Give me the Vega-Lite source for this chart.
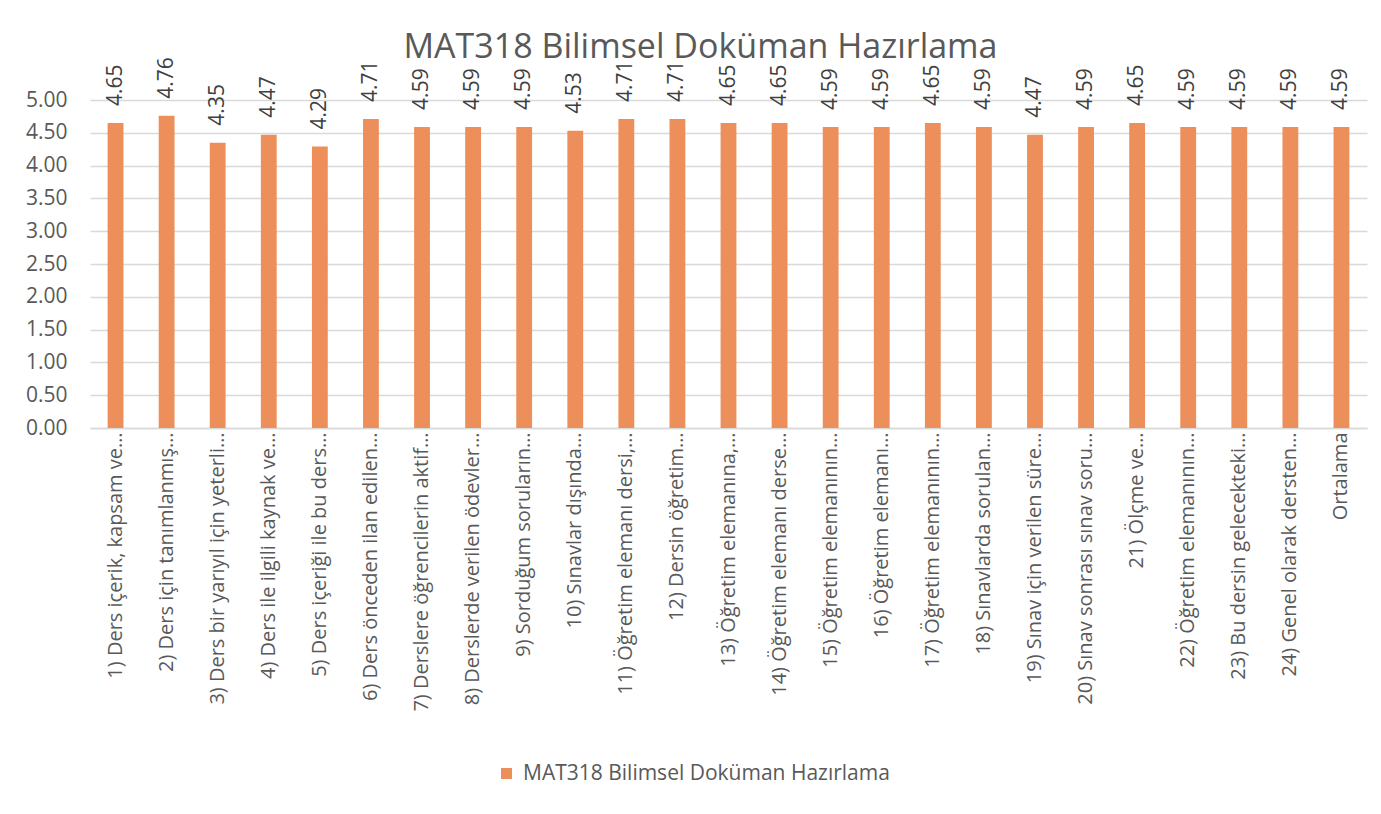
{
  "$schema": "https://vega.github.io/schema/vega-lite/v6.json",
  "autosize": {"type": "none"},
  "width": 1277,
  "height": 328,
  "padding": {"left": 90, "top": 100, "right": 14, "bottom": 386},
  "background": "white",
  "title": {
    "text": "MAT318 Bilimsel Doküman Hazırlama",
    "fontSize": 34,
    "font": "Open Sans",
    "fontWeight": "normal",
    "color": "#595959",
    "anchor": "middle",
    "frame": "group",
    "offset": -8,
    "dx": -28
  },
  "data": {
    "values": [
      {"q": "1) Ders içerik, kapsam ve…", "v": 4.65},
      {"q": "2) Ders için tanımlanmış…", "v": 4.76},
      {"q": "3) Ders bir yarıyıl için yeterli…", "v": 4.35},
      {"q": "4) Ders ile ilgili kaynak ve…", "v": 4.47},
      {"q": "5) Ders içeriği ile bu ders…", "v": 4.29},
      {"q": "6) Ders önceden ilan edilen…", "v": 4.71},
      {"q": "7) Derslere öğrencilerin aktif…", "v": 4.59},
      {"q": "8) Derslerde verilen ödevler…", "v": 4.59},
      {"q": "9) Sorduğum soruların…", "v": 4.59},
      {"q": "10) Sınavlar dışında…", "v": 4.53},
      {"q": "11)  Öğretim elemanı dersi,…", "v": 4.71},
      {"q": "12) Dersin öğretim…", "v": 4.71},
      {"q": "13) Öğretim elemanına,…", "v": 4.65},
      {"q": "14) Öğretim elemanı derse…", "v": 4.65},
      {"q": "15) Öğretim elemanının…", "v": 4.59},
      {"q": "16) Öğretim elemanı…", "v": 4.59},
      {"q": "17) Öğretim elemanının…", "v": 4.65},
      {"q": "18) Sınavlarda sorulan…", "v": 4.59},
      {"q": "19) Sınav için verilen süre…", "v": 4.47},
      {"q": "20) Sınav sonrası sınav soru…", "v": 4.59},
      {"q": "21) Ölçme ve…", "v": 4.65},
      {"q": "22)  Öğretim elemanının…", "v": 4.59},
      {"q": "23) Bu dersin gelecekteki…", "v": 4.59},
      {"q": "24) Genel olarak dersten…", "v": 4.59},
      {"q": "Ortalama", "v": 4.59}
    ]
  },
  "encoding": {
    "x": {
      "field": "q",
      "type": "nominal",
      "sort": null,
      "title": null,
      "scale": {"paddingInner": 0.69, "paddingOuter": 0.345},
      "axis": {
        "labelAngle": -90,
        "labelAlign": "right",
        "labelBaseline": "middle",
        "labelFontSize": 20,
        "labelFont": "Open Sans",
        "labelColor": "#595959",
        "labelPadding": 4,
        "labelLimit": 400,
        "ticks": false,
        "domainColor": "#D9D9D9",
        "domainWidth": 1.3,
        "grid": false
      }
    },
    "y": {
      "field": "v",
      "type": "quantitative",
      "title": null,
      "scale": {"domain": [0, 5], "nice": false},
      "axis": {
        "values": [0, 0.5, 1, 1.5, 2, 2.5, 3, 3.5, 4, 4.5, 5],
        "format": ".2f",
        "labelFontSize": 21,
        "labelFont": "Open Sans",
        "labelColor": "#595959",
        "labelPadding": 23,
        "ticks": false,
        "domain": false,
        "grid": true,
        "gridColor": "#D9D9D9",
        "gridWidth": 1.3
      }
    }
  },
  "layer": [
    {
      "mark": {"type": "bar"},
      "encoding": {
        "color": {
          "datum": "MAT318 Bilimsel Doküman Hazırlama",
          "type": "nominal",
          "scale": {"range": ["#ED8F5B"]},
          "legend": {
            "title": null,
            "orient": "none",
            "legendX": 406,
            "legendY": 663,
            "symbolType": "square",
            "symbolSize": 121,
            "symbolStrokeWidth": 0,
            "labelFontSize": 21,
            "labelFont": "Open Sans",
            "labelColor": "#595959",
            "labelOffset": 6,
            "labelLimit": 600
          }
        }
      }
    },
    {
      "mark": {
        "type": "text",
        "angle": 270,
        "align": "left",
        "baseline": "middle",
        "dx": 17,
        "fontSize": 21,
        "font": "Open Sans",
        "color": "#404040"
      },
      "encoding": {
        "text": {"field": "v", "type": "quantitative", "format": ".2f"}
      }
    }
  ],
  "config": {"view": {"stroke": null}}
}
